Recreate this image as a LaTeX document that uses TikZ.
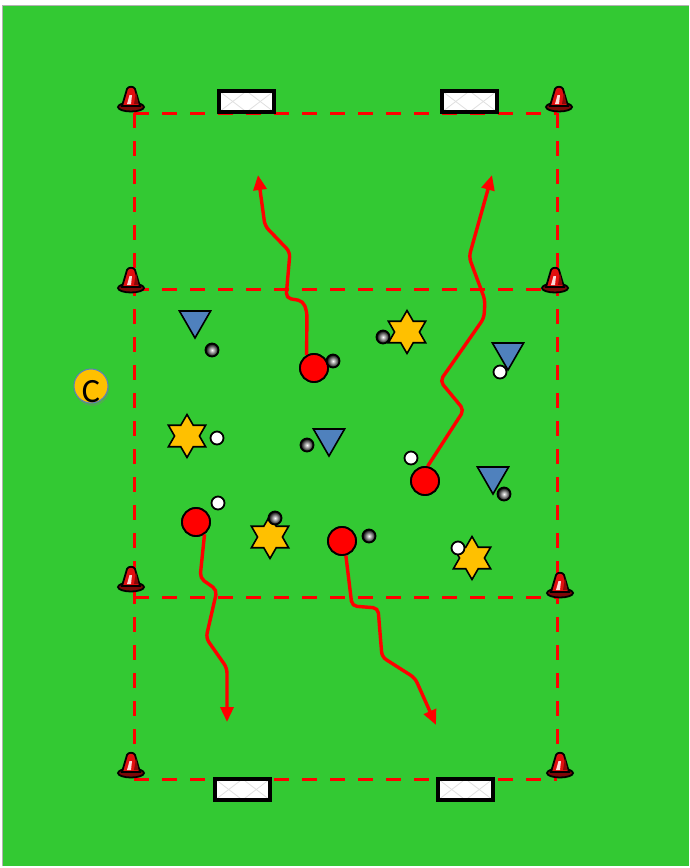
\documentclass[tikz,border=0pt]{standalone}
\usepackage{fontspec}
\newfontfamily\carlito{Carlito}
\usetikzlibrary{shapes.geometric,arrows.meta,shadows}
\definecolor{pitch}{RGB}{51,201,51}
\definecolor{fieldred}{RGB}{255,0,0}
\definecolor{staryel}{RGB}{255,192,0}
\definecolor{triblue}{RGB}{79,129,189}
\definecolor{coachring}{RGB}{91,127,190}
\definecolor{conered}{RGB}{225,15,15}
\tikzset{
 fieldline/.style={fieldred, line width=3pt, dash pattern=on 15pt off 13pt},
 runline/.style={fieldred, line width=3.4pt, rounded corners=5pt, -{Triangle[length=15pt,width=13pt]}},
 player/.style={circle, draw=black, line width=1.8pt, fill=red, minimum size=28pt, inner sep=0pt},
 opp/.style={regular polygon, regular polygon sides=3, shape border rotate=180, draw=black, line width=1.6pt, fill=triblue, minimum size=36pt, inner sep=0pt},
 neutral/.style={star, star points=6, star point ratio=1.73, draw=black, line width=1.6pt, fill=staryel, minimum size=43pt, inner sep=0pt},
 wball/.style={circle, draw=black, line width=1.8pt, fill=white, minimum size=13pt, inner sep=0pt},
 gball/.style={circle, draw=black, line width=1.8pt, inner color=white, outer color=black, minimum size=13pt, inner sep=0pt},
 goalbox/.style={draw=black, line width=4.5pt},
 net/.style={black!12, line width=0.8pt},
 cone/.pic={
   \draw[black, line width=1.8pt, fill=conered!55!black] (0,0) ellipse [x radius=13pt, y radius=4.5pt];
   \draw[black, line width=1.8pt, fill=conered]
     (-9,-1) -- (-4,-18) .. controls (-3,-21) and (3,-21) .. (4,-18) -- (9,-1) -- cycle;
   \fill[white, opacity=0.85] (-4,-3) -- (-1.5,-12) -- (1,-12) -- (0,-3) -- cycle;
   \fill[conered!60!black] (3,-3) -- (5,-15) -- (7.5,-3) -- cycle;
 }
}
\begin{document}
\begin{tikzpicture}[x=1pt,y=-1pt]
\useasboundingbox (0,0) rectangle (689,868);
\fill[pitch] (2,5) rectangle (689,866);
\draw[gray!60, line width=0.5pt] (2,866) -- (2,5) -- (689,5);

% field lines
\draw[fieldline] (134,113) -- (557,113);
\draw[fieldline] (134,289) -- (557,289);
\draw[fieldline] (134,597) -- (557,597);
\draw[fieldline] (134,779) -- (557,779);
\draw[fieldline] (134,113) -- (134,779);
\draw[fieldline] (557,113) -- (557,779);

% goals
\foreach \gx/\gy in {219/91, 442/91, 215/779, 438/779}{
  \fill[white] (\gx,\gy) rectangle ++(55,21);
  \draw[net] (\gx,\gy) -- ++(27.5,21) -- ++(27.5,-21);
  \draw[net] (\gx,\gy+21) -- ++(27.5,-21) -- ++(27.5,21);
  \draw[goalbox] (\gx,\gy) rectangle ++(55,21);
}

% cones
\foreach \cx/\cy in {131/107, 559/107, 131/288, 555/288, 131/587, 560/593, 131/773, 560/773}{
  \pic at (\cx,\cy) {cone};
}

% coach
\node[circle, fill=staryel, draw=coachring, line width=1pt, minimum size=34pt, inner sep=0pt,
  drop shadow={opacity=0.35, shadow xshift=1pt, shadow yshift=-3pt}] (coach) at (91,386) {};
\node[inner sep=0pt] (coachC) at (91,392) {\carlito\fontsize{34}{34}\selectfont C};

% players
\node[player] (p1) at (314,368) {};
\node[player] (p2) at (425,481) {};
\node[player] (p3) at (196,522) {};
\node[player] (p4) at (342,541) {};

% runs
\coordinate (e1) at (258,175);
\coordinate (e2) at (492,175);
\coordinate (e3) at (227,722);
\coordinate (e4) at (436,725);
\draw[runline] (p1.120) -- (307,312) -- (303,301) -- (286,298) -- (290,252) -- (265,226) -- (e1);
\draw[runline] (p2.80) -- (464,410) -- (440,381) -- (484,318) -- (485,300) -- (469,257) -- (e2);
\draw[runline] (p3.-55) -- (200,578) -- (217,590) -- (206,638) -- (227,668) -- (e3);
\draw[runline] (p4.-75) -- (352,606) -- (378,608) -- (382,657) -- (415,678) -- (e4);
\node[player] at (p1) {};
\node[player] at (p2) {};
\node[player] at (p3) {};
\node[player] at (p4) {};

% opponents
\node[opp] (o1) at (195,320) {};
\node[opp] (o2) at (508,352) {};
\node[opp] (o3) at (329,438) {};
\node[opp] (o4) at (493,476) {};

% neutrals
\node[neutral] (n1) at (407,332) {};
\node[neutral] (n2) at (187,436) {};
\node[neutral] (n3) at (270,537) {};
\node[neutral] (n4) at (472,558) {};

% balls
\node[gball] (b1) at (212,350) {};
\node[gball] (b2) at (333,361) {};
\node[gball] (b3) at (383,337) {};
\node[wball] (b4) at (500,372) {};
\node[wball] (b5) at (217,438) {};
\node[gball] (b6) at (307,445) {};
\node[wball] (b7) at (411,458) {};
\node[gball] (b8) at (504,494) {};
\node[wball] (b9) at (218,503) {};
\node[gball] (b10) at (275,518) {};
\node[gball] (b11) at (369,536) {};
\node[wball] (b12) at (458,548) {};
\end{tikzpicture}
\end{document}
